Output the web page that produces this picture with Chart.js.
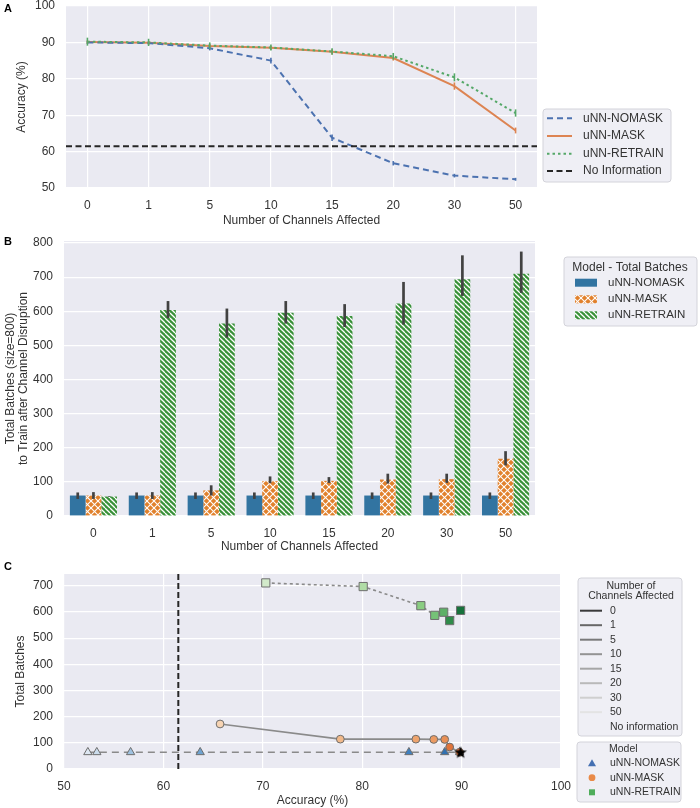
<!DOCTYPE html>
<html>
<head>
<meta charset="utf-8">
<script src="https://cdn.jsdelivr.net/npm/chart.js@4.4.0/dist/chart.umd.min.js"></script>
<style>
  body { margin: 0; background: #fff; width: 700px; height: 808px; position: relative; overflow: hidden; font-family: "Liberation Sans", Arial, sans-serif; }
  canvas { position: absolute; left: 0; }
  .panel { position: absolute; left: 4px; font-weight: bold; font-size: 11px; line-height: 11px; color: #000; }
</style>
</head>
<body>
<canvas id="chartA" width="700" height="228" style="top:0px"></canvas>
<canvas id="chartB" width="700" height="328" style="top:228px"></canvas>
<canvas id="chartC" width="700" height="252" style="top:556px"></canvas>
<div class="panel" style="top:3px">A</div>
<div class="panel" style="top:236px">B</div>
<div class="panel" style="top:561px">C</div>
<script>
// shared labels
const channels = ['0', '1', '5', '10', '15', '20', '30', '50'];
const models = ['uNN-NOMASK', 'uNN-MASK', 'uNN-RETRAIN'];
const noInfoLabel = 'No Information';

// panel A: accuracy per channel count
const accNomask = [90.0, 89.8, 88.4, 85.0, 63.8, 56.8, 53.4, 52.4];
const accMask = [90.1, 89.9, 89.0, 88.5, 87.4, 85.7, 78.0, 65.8];
const accRetrain = [90.2, 90.0, 89.1, 88.6, 87.5, 86.2, 80.4, 70.6];
const accErrNomask = [0.4, 0.4, 0.6, 0.8, 0.9, 0.6, 0.5, 0.4];
const accErrMask = [0.5, 0.5, 0.6, 0.6, 0.7, 0.7, 1.0, 0.8];
const accErrRetrain = [1.1, 1.0, 0.9, 0.8, 0.9, 0.9, 1.1, 1.0];
const noInfoAcc = 61.5;
const accTicks = [50, 60, 70, 80, 90, 100];

// panel B: total batches per channel count
const batchNomask = [60, 60, 60, 60, 60, 60, 60, 60];
const batchNomaskLo = [50, 50, 50, 50, 50, 50, 50, 50];
const batchNomaskHi = [69, 69, 69, 69, 69, 69, 69, 69];
const batchMask = [60, 60, 75, 102, 103, 107, 108, 168];
const batchMaskLo = [50, 50, 60, 96, 97, 95, 97, 148];
const batchMaskHi = [70, 70, 90, 116, 114, 124, 124, 190];
const batchRetrain = [57, 604, 564, 596, 586, 623, 694, 710];
const batchRetrainLo = [56, 580, 523, 564, 554, 561, 645, 654];
const batchRetrainHi = [58, 630, 608, 630, 621, 686, 764, 775];
const batchTicksB = [0, 100, 200, 300, 400, 500, 600, 700, 800];

// panel C: accuracy vs batches, points ordered 50 -> 1 channels
const cAccNomask = [52.4, 53.3, 56.7, 63.7, 84.7, 88.3, 89.8];
const cBatchNomask = [64, 64, 64, 64, 64, 64, 64];
const cAccMask = [65.7, 77.8, 85.4, 87.2, 88.3, 88.8, 89.8];
const cBatchMask = [172, 114, 114, 113, 113, 84, 64];
const cAccRetrain = [70.3, 80.1, 85.9, 87.3, 88.2, 88.8, 89.9];
const cBatchRetrain = [711, 697, 624, 587, 599, 567, 606];
const cAccBase = [89.9];
const cBatchBase = [64];
const legendChannels = ['0', '1', '5', '10', '15', '20', '30', '50', 'No information'];
const accTicksC = [50, 60, 70, 80, 90, 100];
const batchTicksC = [0, 100, 200, 300, 400, 500, 600, 700];

// styles
const FONT = '"Liberation Sans", Arial, sans-serif';
const TEXT = '#333333';
const lineColors = ['#4c72b0', '#dd8452', '#55a868'];
const barColors = ['#3274a1', '#e1812c', '#3a923a'];
const shadeNomask = ['#dde7f2', '#cbdcec', '#9fc2e0', '#6fa3d0', '#3f80bf', '#3170b0', '#28609f'];
const shadeMask = ['#f7d4b3', '#f1b98a', '#eea46e', '#eb9a62', '#e88f55', '#e0743b', '#d4652c'];
const shadeRetrain = ['#d2eaca', '#b0dca6', '#8acd82', '#75c277', '#5db067', '#2f8b4a', '#17723c'];
const channelGreys = ['#3a3a3a', '#676767', '#7a7a7a', '#939393', '#a6a6a6', '#b9b9b9', '#cfcfcf', '#e3e3e3'];
const legendMarkers = ['#4470b2', '#e98a48', '#4fad5b'];

const plotBackground = {
    id: 'plotBackground',
    beforeDraw: function (chart) {
        const a = chart.chartArea;
        const ctx = chart.ctx;
        ctx.save();
        ctx.fillStyle = '#eaeaf2';
        ctx.fillRect(a.left, a.top, a.right - a.left, a.bottom - a.top);
        ctx.restore();
    }
};

const fixY = function (w) {
    return function (s) { s.width = w; s.paddingTop = 0; s.paddingBottom = 0; };
};
const fixX = function (h) {
    return function (s) { s.height = h; s.paddingLeft = 0; s.paddingRight = 0; };
};
const setTicks = function (values) {
    return function (s) { s.ticks = values.map(v => ({ value: v })); };
};

const gridOpts = { color: '#ffffff', lineWidth: 1.2, drawTicks: false };
const tickFont = { family: FONT, size: 12 };
const titleFont = { family: FONT, size: 12 };

const legendFrame = function (ctx, x, y, w, h) {
    const r = 3;
    ctx.save();
    ctx.fillStyle = '#efeff5';
    ctx.strokeStyle = '#d3d3da';
    ctx.lineWidth = 1;
    ctx.beginPath();
    ctx.moveTo(x + r, y);
    ctx.arcTo(x + w, y, x + w, y + h, r);
    ctx.arcTo(x + w, y + h, x, y + h, r);
    ctx.arcTo(x, y + h, x, y, r);
    ctx.arcTo(x, y, x + w, y, r);
    ctx.closePath();
    ctx.fill();
    ctx.stroke();
    ctx.restore();
};

const legendText = function (ctx, text, x, y, size, align) {
    ctx.save();
    ctx.font = size + 'px ' + FONT;
    ctx.fillStyle = TEXT;
    ctx.textBaseline = 'middle';
    ctx.textAlign = align || 'left';
    ctx.fillText(text, x, y);
    ctx.restore();
};

const sampleLine = function (ctx, x0, x1, y, color, dash, width) {
    ctx.save();
    ctx.strokeStyle = color;
    ctx.lineWidth = width;
    ctx.setLineDash(dash);
    ctx.beginPath();
    ctx.moveTo(x0, y);
    ctx.lineTo(x1, y);
    ctx.stroke();
    ctx.restore();
};

// ---------- Panel A ----------
const dashA = [[6, 4], [], [2.5, 3]];

const showAccuracy = function () {
    const ctx = document.getElementById('chartA').getContext('2d');
    const series = [accNomask, accMask, accRetrain];
    const errs = [accErrNomask, accErrMask, accErrRetrain];

    const extras = {
        id: 'extrasA',
        afterDatasetsDraw: function (chart) {
            const c = chart.ctx;
            const ys = chart.scales.y;
            const a = chart.chartArea;
            const yLine = ys.getPixelForValue(noInfoAcc);
            sampleLine(c, a.left, a.right, yLine, '#262626', [6, 3.5], 2);
            series.forEach(function (vals, d) {
                const meta = chart.getDatasetMeta(d);
                c.save();
                c.strokeStyle = lineColors[d];
                c.lineWidth = 1.6;
                meta.data.forEach(function (pt, i) {
                    c.beginPath();
                    c.moveTo(pt.x, ys.getPixelForValue(vals[i] - errs[d][i]));
                    c.lineTo(pt.x, ys.getPixelForValue(vals[i] + errs[d][i]));
                    c.stroke();
                });
                c.restore();
            });
        },
        afterDraw: function (chart) {
            const c = chart.ctx;
            legendFrame(c, 543, 109, 128, 73);
            const rows = [118.3, 136, 153.7, 171];
            models.forEach(function (m, i) {
                sampleLine(c, 547, 572, rows[i], lineColors[i], dashA[i], 2);
                legendText(c, m, 583, rows[i], 12);
            });
            sampleLine(c, 547, 572, rows[3], '#262626', [6, 3.5], 2);
            legendText(c, noInfoLabel, 583, rows[3], 12);
        }
    };

    new Chart(ctx, {
        type: 'line',
        data: {
            datasets: models.map(function (m, i) {
                return {
                    label: m,
                    data: series[i].map((v, j) => ({ x: j, y: v })),
                    borderColor: lineColors[i],
                    borderDash: dashA[i],
                    borderWidth: 2,
                    pointRadius: 0,
                    fill: false,
                    tension: 0,
                    order: [2, 3, 1][i]
                };
            })
        },
        options: {
            responsive: false,
            animation: false,
            events: [],
            layout: { padding: { left: 0, top: 6, right: 163, bottom: 0 } },
            plugins: { legend: { display: false }, tooltip: { enabled: false } },
            scales: {
                x: {
                    type: 'linear',
                    min: -0.35,
                    max: 7.35,
                    afterBuildTicks: setTicks(channels.map((c, i) => i)),
                    afterFit: fixX(40),
                    grid: gridOpts,
                    border: { display: false },
                    ticks: { font: tickFont, color: TEXT, padding: 10, maxRotation: 0, callback: v => channels[v] },
                    title: { display: true, text: 'Number of Channels Affected', font: titleFont, color: TEXT, padding: { top: 0, bottom: 0 } }
                },
                y: {
                    min: 50,
                    max: 100,
                    afterBuildTicks: setTicks(accTicks),
                    afterFit: fixY(66),
                    grid: gridOpts,
                    border: { display: false },
                    ticks: { font: tickFont, color: TEXT, padding: 11 },
                    title: { display: true, text: 'Accuracy (%)', font: titleFont, color: TEXT, padding: { top: 14, bottom: 0 } }
                }
            }
        },
        plugins: [plotBackground, extras]
    });
};

// ---------- Panel B ----------
const makePattern = function (bg, size, width, families) {
    const tile = document.createElement('canvas');
    tile.width = size;
    tile.height = size;
    const g = tile.getContext('2d');
    g.fillStyle = bg;
    g.fillRect(0, 0, size, size);
    g.strokeStyle = '#ffffff';
    g.lineWidth = width;
    [-1, 0, 1].forEach(function (k) {
        if (families.indexOf('\\') >= 0) {
            g.beginPath(); g.moveTo(k * size, 0); g.lineTo(k * size + size, size); g.stroke();
        }
        if (families.indexOf('/') >= 0) {
            g.beginPath(); g.moveTo(k * size, size); g.lineTo(k * size + size, 0); g.stroke();
        }
    });
    return g.createPattern(tile, 'repeat');
};

const showBatches = function () {
    const ctx = document.getElementById('chartB').getContext('2d');
    const fills = [
        barColors[0],
        makePattern(barColors[1], 7, 1.1, '\\/'),
        makePattern(barColors[2], 5, 1.3, '\\')
    ];
    const series = [batchNomask, batchMask, batchRetrain];
    const los = [batchNomaskLo, batchMaskLo, batchRetrainLo];
    const his = [batchNomaskHi, batchMaskHi, batchRetrainHi];

    const extras = {
        id: 'extrasB',
        afterDatasetsDraw: function (chart) {
            const c = chart.ctx;
            const ys = chart.scales.y;
            c.save();
            c.strokeStyle = '#424242';
            c.lineWidth = 2.7;
            series.forEach(function (vals, d) {
                chart.getDatasetMeta(d).data.forEach(function (bar, i) {
                    c.beginPath();
                    c.moveTo(bar.x, ys.getPixelForValue(los[d][i]));
                    c.lineTo(bar.x, ys.getPixelForValue(his[d][i]));
                    c.stroke();
                });
            });
            c.restore();
        },
        afterDraw: function (chart) {
            const c = chart.ctx;
            legendFrame(c, 564, 29, 133, 69);
            legendText(c, 'Model - Total Batches', 630, 39.5, 12, 'center');
            const rows = [54.7, 71.3, 87.3];
            models.forEach(function (m, i) {
                c.save();
                c.fillStyle = fills[i];
                c.fillRect(575, rows[i] - 4, 22, 8);
                c.restore();
                legendText(c, m, 608, rows[i], 11.5);
            });
        }
    };

    new Chart(ctx, {
        type: 'bar',
        data: {
            labels: channels,
            datasets: models.map(function (m, i) {
                return {
                    label: m,
                    data: series[i],
                    backgroundColor: fills[i],
                    borderWidth: 0,
                    categoryPercentage: 0.8,
                    barPercentage: 1.0
                };
            })
        },
        options: {
            responsive: false,
            animation: false,
            events: [],
            layout: { padding: { left: 0, top: 13, right: 165, bottom: 0 } },
            plugins: { legend: { display: false }, tooltip: { enabled: false } },
            scales: {
                x: {
                    afterFit: fixX(40),
                    grid: { display: false, drawTicks: false },
                    border: { display: false },
                    ticks: { font: tickFont, color: TEXT, padding: 10, maxRotation: 0 },
                    title: { display: true, text: 'Number of Channels Affected', font: titleFont, color: TEXT, padding: { top: 0, bottom: 2 } }
                },
                y: {
                    min: 0,
                    max: 806,
                    afterBuildTicks: setTicks(batchTicksB),
                    afterFit: fixY(64),
                    grid: gridOpts,
                    border: { display: false },
                    ticks: { font: tickFont, color: TEXT, padding: 11 },
                    title: {
                        display: true,
                        text: ['Total Batches (size=800)', 'to Train after Channel Disruption'],
                        font: { family: FONT, size: 12, lineHeight: 1.05 },
                        color: TEXT,
                        padding: { top: 4.7, bottom: 0 }
                    }
                }
            }
        },
        plugins: [plotBackground, extras]
    });
};

// ---------- Panel C ----------
const starImage = function (outer, inner) {
    const size = Math.ceil(outer * 2 + 2);
    const cv = document.createElement('canvas');
    cv.width = size;
    cv.height = size;
    const g = cv.getContext('2d');
    const cx = size / 2, cy = size / 2 + 0.5;
    g.beginPath();
    for (let k = 0; k < 10; k++) {
        const r = k % 2 === 0 ? outer : inner;
        const ang = -Math.PI / 2 + k * Math.PI / 5;
        const px = cx + r * Math.cos(ang), py = cy + r * Math.sin(ang);
        if (k === 0) g.moveTo(px, py); else g.lineTo(px, py);
    }
    g.closePath();
    g.fillStyle = '#000000';
    g.fill();
    return cv;
};

const showTradeoff = function () {
    const ctx = document.getElementById('chartC').getContext('2d');
    const toPoints = (xs, ys) => xs.map((x, i) => ({ x: x, y: ys[i] }));

    const extras = {
        id: 'extrasC',
        beforeDatasetsDraw: function (chart) {
            const a = chart.chartArea;
            const xv = chart.scales.x.getPixelForValue(noInfoAcc);
            const c = chart.ctx;
            c.save();
            c.strokeStyle = '#262626';
            c.lineWidth = 2;
            c.setLineDash([6, 3]);
            c.beginPath();
            c.moveTo(xv, a.top);
            c.lineTo(xv, a.bottom);
            c.stroke();
            c.restore();
        },
        afterDraw: function (chart) {
            const c = chart.ctx;
            legendFrame(c, 578, 22, 104, 158);
            legendText(c, 'Number of', 631, 29.7, 10.5, 'center');
            legendText(c, 'Channels Affected', 631, 40.3, 10.5, 'center');
            legendChannels.forEach(function (lab, i) {
                const y = 54.7 + i * 14.5;
                if (i < channelGreys.length) sampleLine(c, 580, 602, y, channelGreys[i], [], 2);
                legendText(c, lab, 610, y, 10.5);
            });
            legendFrame(c, 577, 186, 104, 60);
            legendText(c, 'Model', 609, 193.5, 10.5);
            const rows = [207.3, 221.7, 236.3];
            models.forEach(function (m, i) {
                c.save();
                c.fillStyle = legendMarkers[i];
                c.beginPath();
                if (i === 0) { c.moveTo(592, rows[i] - 4); c.lineTo(596, rows[i] + 3); c.lineTo(588, rows[i] + 3); c.closePath(); }
                else if (i === 1) { c.arc(592, rows[i], 3.4, 0, Math.PI * 2); }
                else { c.rect(589, rows[i] - 3, 6, 6); }
                c.fill();
                c.restore();
                legendText(c, m, 610, rows[i], 10.5);
            });
        }
    };

    const base = {
        showLine: true,
        borderColor: '#8a8a8a',
        borderWidth: 1.6,
        pointBorderColor: '#6e6e6e',
        pointBorderWidth: 1
    };

    new Chart(ctx, {
        type: 'scatter',
        data: {
            datasets: [
                Object.assign({}, base, {
                    label: models[0],
                    data: toPoints(cAccNomask, cBatchNomask),
                    borderDash: [7, 5],
                    pointStyle: 'triangle',
                    pointRadius: 4.8,
                    pointBackgroundColor: shadeNomask,
                    order: 4
                }),
                Object.assign({}, base, {
                    label: models[1],
                    data: toPoints(cAccMask, cBatchMask),
                    pointStyle: 'circle',
                    pointRadius: 3.9,
                    pointBackgroundColor: shadeMask,
                    order: 3
                }),
                Object.assign({}, base, {
                    label: models[2],
                    data: toPoints(cAccRetrain, cBatchRetrain),
                    borderDash: [3, 3],
                    pointStyle: 'rect',
                    pointRadius: 5.8,
                    pointBackgroundColor: shadeRetrain,
                    order: 2
                }),
                {
                    label: 'base',
                    data: toPoints(cAccBase, cBatchBase),
                    pointStyle: starImage(6.6, 2.7),
                    pointRadius: 7,
                    order: 1
                }
            ]
        },
        options: {
            responsive: false,
            animation: false,
            events: [],
            layout: { padding: { left: 0, top: 18, right: 139, bottom: 0 } },
            plugins: { legend: { display: false }, tooltip: { enabled: false } },
            scales: {
                x: {
                    type: 'linear',
                    min: 50,
                    max: 100,
                    afterBuildTicks: setTicks(accTicksC),
                    afterFit: fixX(39),
                    grid: gridOpts,
                    border: { display: false },
                    ticks: { font: tickFont, color: TEXT, padding: 10, maxRotation: 0 },
                    title: { display: true, text: 'Accuracy (%)', font: titleFont, color: TEXT, padding: { top: 0, bottom: 0 } }
                },
                y: {
                    min: 0,
                    max: 745,
                    afterBuildTicks: setTicks(batchTicksC),
                    afterFit: fixY(64),
                    grid: gridOpts,
                    border: { display: false },
                    ticks: { font: tickFont, color: TEXT, padding: 11 },
                    title: { display: true, text: 'Total Batches', font: titleFont, color: TEXT, padding: { top: 13.5, bottom: 0 } }
                }
            }
        },
        plugins: [plotBackground, extras]
    });
};

showAccuracy();
showBatches();
showTradeoff();
</script>
</body>
</html>
